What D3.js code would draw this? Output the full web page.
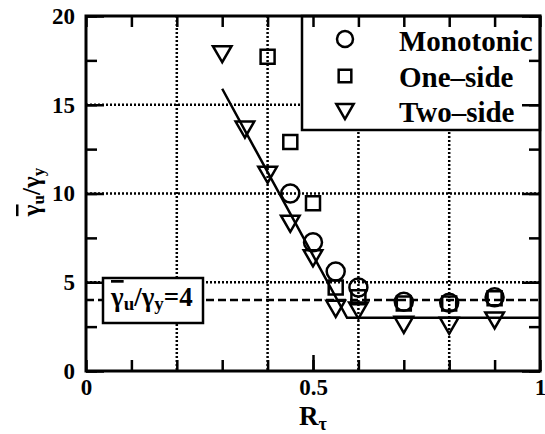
<!DOCTYPE html>
<html>
<head>
<meta charset="utf-8">
<script src="https://cdn.jsdelivr.net/npm/d3@7"></script>
<style>
  body { margin: 0; background: #fff; }
  svg text { font-family: 'Liberation Serif', serif !important; font-weight: bold; fill: #000; }
  .bar { text-decoration: overline; }
</style>
</head>
<body>
<svg id="chart" width="545" height="434"></svg>
<script>
// values
const rtau = [0.3, 0.35, 0.4, 0.45, 0.5, 0.55, 0.6, 0.7, 0.8, 0.9];
const monotonicX = [0.45, 0.5, 0.55, 0.6, 0.7, 0.8, 0.9];
const monotonicY = [10.0, 7.25, 5.6, 4.7, 3.9, 3.85, 4.15];
const oneSideX = [0.4, 0.45, 0.5, 0.55, 0.6, 0.7, 0.8, 0.9];
const oneSideY = [17.7, 12.9, 9.45, 4.7, 4.15, 3.8, 3.8, 4.1];
const twoSideX = rtau;
const twoSideY = [18.0, 13.75, 11.2, 8.45, 6.5, 3.65, 3.55, 2.75, 2.7, 3.0];
const fitX = [0.3, 0.575, 1.0];
const fitY = [15.9, 3.0, 3.0];
const refLevel = 4;
const xTickLabels = [0, 0.5, 1];
const yTickLabels = [0, 5, 10, 15, 20];
const xGrid = [0.2, 0.4, 0.6, 0.8];
const yGrid = [5, 10, 15];
const legendNames = ["Monotonic", "One\u2013side", "Two\u2013side"];

const margin = {top: 16, right: 5, bottom: 63, left: 86};
const W = 545, H = 434;
const w = W - margin.left - margin.right;
const h = H - margin.top - margin.bottom;

const svg = d3.select("#chart");
const g = svg.append("g").attr("transform", "translate(" + margin.left + "," + margin.top + ")");

const x = d3.scaleLinear().domain([0, 1]).range([0, w]);
const y = d3.scaleLinear().domain([0, 20]).range([h, 0]);

// dotted grid
g.selectAll(".gx").data(xGrid).enter().append("line")
    .attr("x1", d => x(d)).attr("x2", d => x(d))
    .attr("y1", 0).attr("y2", h)
    .attr("stroke", "#000").attr("stroke-width", 2.5).attr("stroke-dasharray", "2,2");
g.selectAll(".gy").data(yGrid).enter().append("line")
    .attr("x1", 0).attr("x2", w)
    .attr("y1", d => y(d)).attr("y2", d => y(d))
    .attr("stroke", "#000").attr("stroke-width", 2.5).attr("stroke-dasharray", "2,2");

// dashed reference level
g.append("line")
    .attr("x1", 0).attr("x2", w)
    .attr("y1", y(refLevel)).attr("y2", y(refLevel))
    .attr("stroke", "#000").attr("stroke-width", 2.5).attr("stroke-dasharray", "8,4");

// fitted curve
const fit = fitX.map((v, i) => [v, fitY[i]]);
g.append("path")
    .attr("d", d3.line().x(d => x(d[0])).y(d => y(d[1]))(fit))
    .attr("fill", "none").attr("stroke", "#000").attr("stroke-width", 2.5);

// markers
const sym = {
  circle: d3.symbol().type(d3.symbolCircle).size(Math.PI * 81),
  square: d3.symbol().type(d3.symbolSquare).size(196),
  tri: d3.symbol().type(d3.symbolTriangle).size(150)
};
function drawSeries(xs, ys, shape) {
  g.selectAll(null).data(xs.map((v, i) => [v, ys[i]])).enter().append("path")
      .attr("d", sym[shape]())
      .attr("transform", d => "translate(" + x(d[0]) + "," + y(d[1]) + ")" + (shape == "tri" ? " rotate(180)" : ""))
      .attr("fill", "none").attr("stroke", "#000").attr("stroke-width", 2.5);
}
drawSeries(monotonicX, monotonicY, "circle");
drawSeries(oneSideX, oneSideY, "square");
drawSeries(twoSideX, twoSideY, "tri");

// gamma_u / gamma_y with a bar over the first gamma
function ratioText(sel, big, small) {
  sel.append("tspan").attr("class", "bar").text("\u03b3");
  sel.append("tspan").attr("font-size", small).attr("dy", big * 0.15).text("u");
  sel.append("tspan").attr("dy", -big * 0.15).text("/\u03b3");
  sel.append("tspan").attr("font-size", small).attr("dy", big * 0.15).text("y");
}

// reference label box
const lb = g.append("g").attr("transform", "translate(" + (103 - margin.left) + "," + (278 - margin.top) + ")");
lb.append("rect").attr("width", 100).attr("height", 45)
    .attr("fill", "#fff").attr("stroke", "#000").attr("stroke-width", 2.5);
const lt = lb.append("text").attr("x", 8).attr("y", 28).attr("font-size", 27);
ratioText(lt, 27, 19);
lt.append("tspan").attr("dy", -27 * 0.15).text("=" + refLevel);

// legend
const leg = g.append("g").attr("transform", "translate(" + (302 - margin.left) + ",0)");
leg.append("rect").attr("width", w - (302 - margin.left)).attr("height", 114)
    .attr("fill", "#fff").attr("stroke", "#000").attr("stroke-width", 2.5);
const legShapes = ["circle", "square", "tri"];
const legSym = [
  d3.symbol().type(d3.symbolCircle).size(Math.PI * 64),
  d3.symbol().type(d3.symbolSquare).size(160),
  d3.symbol().type(d3.symbolTriangle).size(130)
];
const legRowY = [23, 60, 93];
const legTextY = [35, 71, 106];
legendNames.forEach((name, i) => {
  leg.append("path").attr("d", legSym[i]())
      .attr("transform", "translate(43," + legRowY[i] + ")" + (legShapes[i] == "tri" ? " rotate(180)" : ""))
      .attr("fill", "none").attr("stroke", "#000").attr("stroke-width", 2.5);
  leg.append("text").attr("x", 97).attr("y", legTextY[i]).attr("font-size", 29).text(name);
});

// ticks (inward) on all four sides
const xMinor = d3.range(0, 1.0001, 0.1);
const yMinor = d3.range(0, 20.001, 2.5);
function tickAxis(axis, vals, size, transform) {
  g.append("g").attr("transform", transform || null)
      .call(axis.tickValues(vals).tickSize(size).tickFormat(""))
      .call(s => s.select(".domain").remove())
      .call(s => s.selectAll("line").attr("stroke", "#000").attr("stroke-width", 2.5));
}
tickAxis(d3.axisBottom(x), xMinor, -11, "translate(0," + h + ")");
tickAxis(d3.axisBottom(x), [0.5], -16, "translate(0," + h + ")");
tickAxis(d3.axisTop(x), xMinor, -11);
tickAxis(d3.axisLeft(y), yMinor, -11);
tickAxis(d3.axisLeft(y), yTickLabels, -18);
tickAxis(d3.axisRight(y), yMinor, -11, "translate(" + w + ",0)");
tickAxis(d3.axisRight(y), yTickLabels, -18, "translate(" + w + ",0)");

// frame
g.append("rect").attr("width", w).attr("height", h)
    .attr("fill", "none").attr("stroke", "#000").attr("stroke-width", 3);

// tick labels
g.append("g").attr("transform", "translate(0," + h + ")")
    .call(d3.axisBottom(x).tickValues(xTickLabels).tickSize(0).tickPadding(8).tickFormat(d3.format("")))
    .call(s => s.select(".domain").remove())
    .call(s => s.selectAll("text").attr("font-size", 23).attr("fill", "#000"));
g.append("g")
    .call(d3.axisLeft(y).tickValues(yTickLabels).tickSize(0).tickPadding(11).tickFormat(d3.format("d")))
    .call(s => s.select(".domain").remove())
    .call(s => s.selectAll("text").attr("font-size", 23).attr("fill", "#000"));

// axis titles
const xt = svg.append("text").attr("x", margin.left + x(0.5)).attr("y", 425)
    .attr("text-anchor", "middle").attr("font-size", 27);
xt.append("tspan").text("R");
xt.append("tspan").attr("font-size", 18).attr("dy", 5).text("\u03c4");

const yt = svg.append("text").attr("transform", "translate(40,192) rotate(-90)")
    .attr("text-anchor", "middle").attr("font-size", 25);
ratioText(yt, 25, 17);
</script>
</body>
</html>
